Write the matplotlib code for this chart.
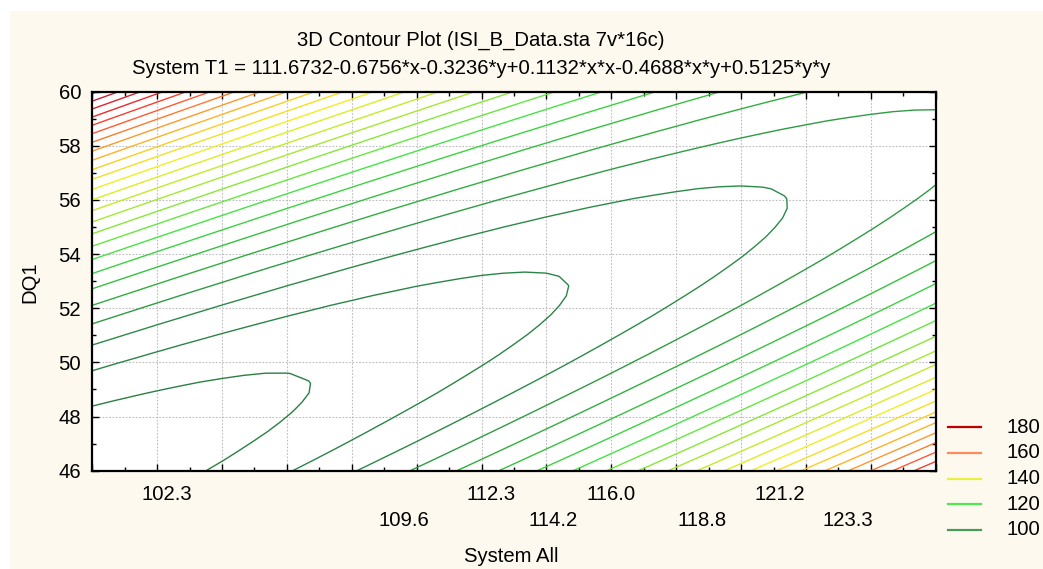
import numpy as np
import matplotlib
matplotlib.use("Agg")
import matplotlib.pyplot as plt
from matplotlib.colors import LinearSegmentedColormap
from matplotlib.lines import Line2D
from matplotlib.patches import Rectangle
from matplotlib.ticker import MultipleLocator, NullFormatter

plt.rcParams['font.family'] = ['Liberation Sans', 'DejaVu Sans']

# ---- data (model printed in the chart title) ----
COEFS = [111.6732, -0.6756, -0.3236, 0.1132, -0.4688, 0.5125]  # const, x, y, x*x, x*y, y*y
X_RANGE = [100.0, 126.0]
Y_RANGE = [46.0, 60.0]
LEVELS = list(range(92, 189, 4))
XLABELS_ROW1 = [102.3, 112.3, 116.0, 121.2]
XLABELS_ROW2 = [109.6, 114.2, 118.8, 123.3]
LEGEND_VALUES = [180, 160, 140, 120, 100]
LEGEND_COLORS = ['#C00000', '#FF8A5A', '#E8F040', '#50E850', '#4A9A5C']

TITLE1 = "3D Contour Plot (ISI_B_Data.sta 7v*16c)"
TITLE2 = "System T1 = 111.6732-0.6756*x-0.3236*y+0.1132*x*x-0.4688*x*y+0.5125*y*y"

FS = 14.6

W, H = 1043, 569
fig = plt.figure(figsize=(W / 100, H / 100), dpi=100, facecolor='white')
fig.add_artist(Rectangle((10 / W, 0), 1 - 10 / W, 558 / H, transform=fig.transFigure,
                         facecolor='#FDF9EE', edgecolor='none', zorder=-10))

L, R, T, B = 92.3, 935.7, 91.7, 470.7
ax = fig.add_axes([L / W, 1 - B / H, (R - L) / W, (B - T) / H])
ax.set_facecolor('white')

xs = np.linspace(X_RANGE[0], X_RANGE[1], 40)
ys = np.linspace(Y_RANGE[0], Y_RANGE[1], 40)
Xg, Yg = np.meshgrid(xs, ys)
c = COEFS
Z = c[0] + c[1] * Xg + c[2] * Yg + c[3] * Xg * Xg + c[4] * Xg * Yg + c[5] * Yg * Yg

anchors = [(88, '#2A7A44'), (100, '#2C8A48'), (108, '#32AE3E'), (116, '#3CD440'),
           (120, '#44E644'), (128, '#86E838'), (136, '#C4EC28'), (144, '#F0F020'),
           (152, '#FFCC20'), (160, '#FF9A2A'), (168, '#FF5A30'), (176, '#EE2A2A'),
           (184, '#C81C30'), (188, '#A01030')]
vmin, vmax = anchors[0][0], anchors[-1][0]
cmap = LinearSegmentedColormap.from_list(
    'stat', [((v - vmin) / (vmax - vmin), col) for v, col in anchors])
ax.contour(Xg, Yg, Z, levels=LEVELS, cmap=cmap, vmin=vmin, vmax=vmax, linewidths=1.0)

ax.set_xlim(*X_RANGE)
ax.set_ylim(*Y_RANGE)
ax.xaxis.set_major_locator(MultipleLocator(2))
ax.xaxis.set_minor_locator(MultipleLocator(1))
ax.yaxis.set_major_locator(MultipleLocator(2))
ax.yaxis.set_minor_locator(MultipleLocator(1))
ax.xaxis.set_major_formatter(NullFormatter())
ax.tick_params(which='both', direction='in', top=True, right=True, color='black')
ax.tick_params(which='major', length=5, width=1.0)
ax.tick_params(which='minor', length=3, width=1.0)
ax.tick_params(axis='y', which='major', labelsize=FS, pad=8)
ax.grid(True, which='major', color='#BDBDBD', linestyle=(0, (1.5, 1.5)), linewidth=0.8)
ax.set_axisbelow(True)
for s in ax.spines.values():
    s.set_linewidth(1.6)
    s.set_color('black')

trans = ax.get_xaxis_transform()
for v in XLABELS_ROW1:
    ax.text(v, (B - 495) / (B - T), f"{v:.1f}", transform=trans, ha='center', va='center',
            fontsize=FS)
for v in XLABELS_ROW2:
    ax.text(v, (B - 520) / (B - T), f"{v:.1f}", transform=trans, ha='center', va='center',
            fontsize=FS)

fig.text(511 / W, 1 - 557 / H, "System All", ha='center', va='center', fontsize=FS)
fig.text(30 / W, 1 - 282 / H, "DQ1", ha='center', va='center', rotation=90, fontsize=FS)
fig.text(481 / W, 1 - 40 / H, TITLE1, ha='center', va='center', fontsize=FS)
fig.text(481 / W, 1 - 68 / H, TITLE2, ha='center', va='center', fontsize=FS)

for i, (val, col) in enumerate(zip(LEGEND_VALUES, LEGEND_COLORS)):
    yy = 1 - (427.3 + i * 25.6) / H
    fig.add_artist(Line2D([948 / W, 981 / W], [yy, yy], transform=fig.transFigure,
                          color=col, linewidth=1.6))
    fig.text(1007 / W, yy, str(val), ha='left', va='center', fontsize=FS)

fig.savefig('out.png', dpi=100, facecolor='white')
